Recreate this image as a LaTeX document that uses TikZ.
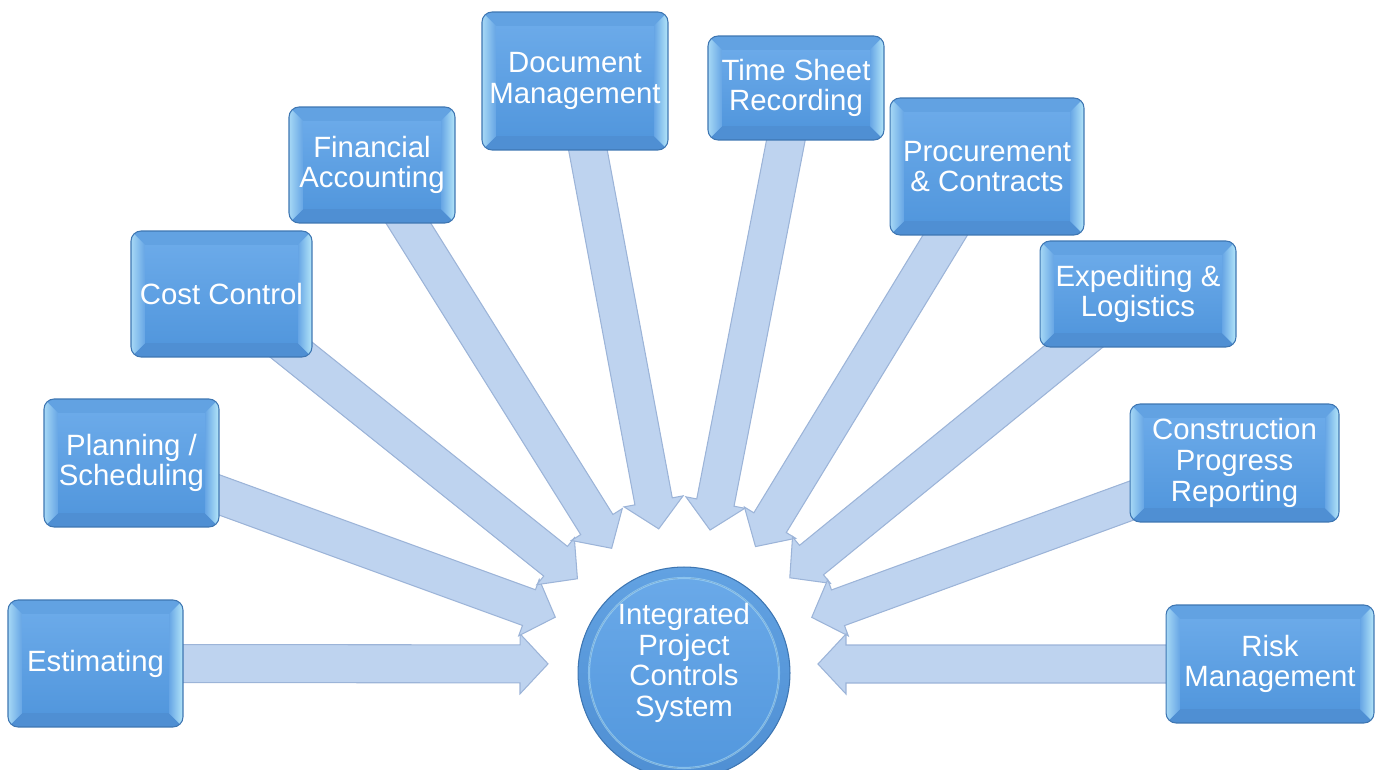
\documentclass[tikz,border=0pt]{standalone}
\usepackage{fontspec}
\setmainfont{Liberation Sans}
\usetikzlibrary{calc,backgrounds}

\definecolor{facetop}{HTML}{6BAAE9}
\definecolor{facebot}{HTML}{5297DD}
\definecolor{rimlight}{HTML}{A6D8F5}
\definecolor{rimcyan}{HTML}{B4E6F9}
\definecolor{rimmid}{HTML}{66A5E5}
\definecolor{rimtop}{HTML}{62A2E2}
\definecolor{rimbot}{HTML}{4F8FD3}
\definecolor{boxline}{HTML}{3E76B2}
\definecolor{feedfill}{HTML}{BED3EF}
\definecolor{feedline}{HTML}{9CB4D8}

\newcommand{\bev}{0.28cm}

% block arrow from a module towards the focus point
\newcommand{\feed}[3]{%
	\coordinate (#1tip) at ($(#2)!#3!(#1.center)$);
	\coordinate (#1neck) at ($(#1tip)!0.56cm!(#1.center)$);
	\filldraw[feeder] ($(#1.center)!0.38cm!90:(#1tip)$) -- ($(#1neck)!0.38cm!90:(#1tip)$) -- ($(#1neck)!0.6cm!90:(#1tip)$) -- (#1tip) -- ($(#1neck)!0.6cm!-90:(#1tip)$) -- ($(#1neck)!0.38cm!-90:(#1tip)$) -- ($(#1.center)!0.38cm!-90:(#1tip)$) -- cycle;
}

\tikzset{
	module/.style={rounded corners=0.2cm, draw=boxline, line width=0.6pt, fill=rimtop, text=white, align=center, inner sep=0pt,
		font=\fontsize{16.7}{17.5}\selectfont,
		path picture={
			\coordinate (onw) at (path picture bounding box.north west);
			\coordinate (one) at (path picture bounding box.north east);
			\coordinate (osw) at (path picture bounding box.south west);
			\coordinate (ose) at (path picture bounding box.south east);
			\coordinate (inw) at ([shift={(\bev,-\bev)}]onw);
			\coordinate (ine) at ([shift={(-\bev,-\bev)}]one);
			\coordinate (isw) at ([shift={(\bev,\bev)}]osw);
			\coordinate (ise) at ([shift={(-\bev,\bev)}]ose);
			\fill[sharp corners,rimbot] (osw) -- (ose) -- (ise) -- (isw) -- cycle;
			\fill[sharp corners,left color=rimlight,right color=rimmid] (onw) -- (inw) -- (isw) -- (osw) -- cycle;
			\fill[sharp corners,left color=rimmid,right color=rimcyan] (one) -- (ine) -- (ise) -- (ose) -- cycle;
			\fill[sharp corners,top color=facetop,bottom color=facebot] (inw) rectangle (ise);
		}},
	hub/.style={circle, minimum size=4.24cm, draw=boxline, line width=0.6pt, top color=rimtop, bottom color=rimbot,
		path picture={
			\fill[top color=facetop,bottom color=facebot] (path picture bounding box.center) circle (1.9cm);
			\draw[rimlight,line width=1.2pt,opacity=0.6] (path picture bounding box.center) circle (1.9cm);
		}},
	hubtext/.style={text=white, align=center, font=\fontsize{16.7}{17.5}\selectfont},
	feeder/.style={fill=feedfill, draw=feedline, line width=0.6pt, line join=miter},
}

\begin{document}
\begin{tikzpicture}[x=0.02cm,y=-0.02cm]
	\useasboundingbox (0,0) rectangle (1383,770);
	\clip (0,0) rectangle (1383,770);

	\node[hub, label={[hubtext,yshift=0.2cm]center:{Integrated\\Project\\Controls\\System}}] (ipcs) at (684,673) {};
	\coordinate (focus) at (684,664);

	\node[module, minimum width=3.5cm, minimum height=2.54cm] (est) at (95.5,663.5) {Estimating};
	\node[module, minimum width=3.5cm, minimum height=2.56cm] (plan) at (131.5,463) {Planning /\\Scheduling};
	\node[module, minimum width=3.62cm, minimum height=2.52cm] (cost) at (221.5,294) {Cost Control};
	\node[module, minimum width=3.32cm, minimum height=2.32cm] (fin) at (372,165) {Financial\\Accounting};
	\node[module, minimum width=3.72cm, minimum height=2.76cm] (doc) at (575,81) {Document\\Management};
	\node[module, minimum width=3.52cm, minimum height=2.08cm] (time) at (796,88) {Time Sheet\\Recording};
	\node[module, minimum width=3.88cm, minimum height=2.74cm] (proc) at (987,166.5) {Procurement\\\& Contracts};
	\node[module, minimum width=3.92cm, minimum height=2.12cm] (exped) at (1138,294) {Expediting \&\\Logistics};
	\node[module, minimum width=4.18cm, minimum height=2.36cm] (constr) at (1234.5,463) {Construction\\Progress\\Reporting};
	\node[module, minimum width=4.16cm, minimum height=2.36cm] (risk) at (1270,664) {Risk\\Management};

	\begin{pgfonlayer}{background}
		\feed{est}{focus}{2.72cm}
		\feed{plan}{focus}{2.74cm}
		\feed{cost}{focus}{2.73cm}
		\feed{fin}{focus}{2.73cm}
		\feed{doc}{focus}{2.75cm}
		\feed{time}{focus}{2.73cm}
		\feed{proc}{focus}{2.75cm}
		\feed{exped}{focus}{2.73cm}
		\feed{constr}{focus}{2.72cm}
		\feed{risk}{focus}{2.68cm}
	\end{pgfonlayer}
\end{tikzpicture}
\end{document}
